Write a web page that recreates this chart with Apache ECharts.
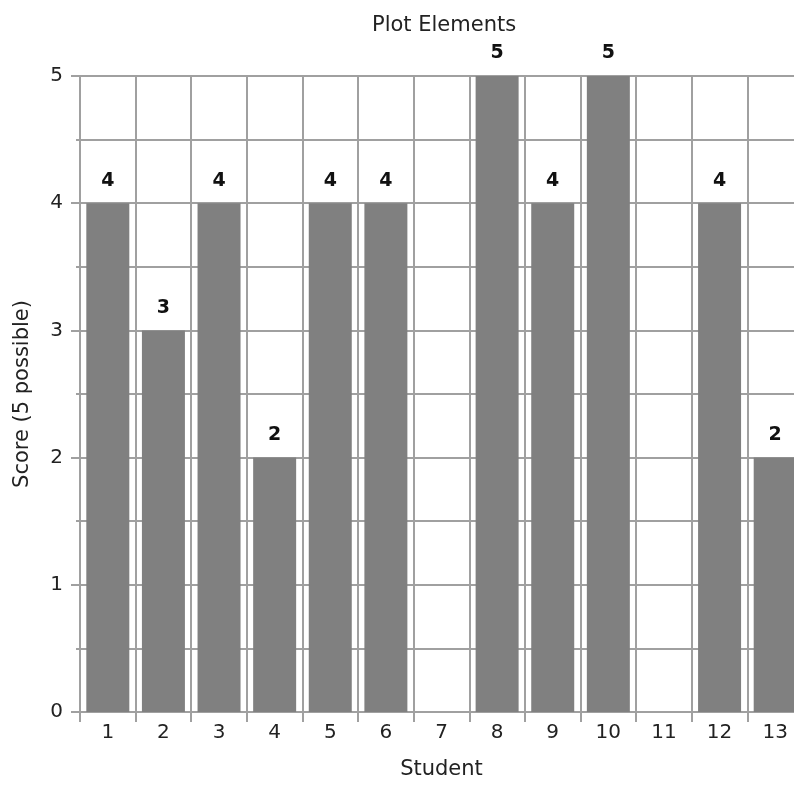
<!DOCTYPE html>
<html>
<head>
<meta charset="utf-8">
<script src="https://cdn.jsdelivr.net/npm/echarts@6/dist/echarts.min.js"></script>
<style>html,body{margin:0;padding:0;background:#fff;overflow:hidden;width:794px;height:785px}#c{width:820px;height:785px}</style>
</head>
<body>
<div id="c"></div>
<script>
const categories = ['1','2','3','4','5','6','7','8','9','10','11','12','13'];
const scores = [4, 3, 4, 2, 4, 4, null, 5, 4, 5, null, 4, 2];
const yMin = 0, yMax = 5, yInterval = 1;

const FONT = 'DejaVu Sans';
const GRID = '#a0a0a0';
const chart = echarts.init(document.getElementById('c'), null, {renderer: 'canvas'});
chart.setOption({
  animation: false,
  backgroundColor: '#fff',
  title: {
    text: 'Plot Elements', left: 372, top: 15, padding: 0,
    textStyle: {fontFamily: FONT, fontSize: 21, fontWeight: 'normal', color: '#222'}
  },
  grid: {left: 80, top: 76, width: 723, height: 636, containLabel: false},
  xAxis: {
    type: 'category', data: categories, boundaryGap: true,
    name: 'Student', nameLocation: 'middle', nameGap: 47,
    nameTextStyle: {fontFamily: FONT, fontSize: 21, color: '#222'},
    axisLine: {show: true, lineStyle: {color: GRID, width: 2}},
    axisTick: {show: true, length: 10, lineStyle: {color: GRID, width: 2}, interval: 0},
    axisLabel: {fontFamily: FONT, fontSize: 20, color: '#222', margin: 11, interval: 0},
    splitLine: {show: true, interval: 0, lineStyle: {color: GRID, width: 2}}
  },
  yAxis: {
    type: 'value', min: yMin, max: yMax, interval: yInterval,
    name: 'Score (5 possible)', nameLocation: 'middle', nameGap: 47,
    nameTextStyle: {fontFamily: FONT, fontSize: 21, color: '#222'},
    axisLine: {show: true, lineStyle: {color: GRID, width: 2}},
    axisTick: {show: true, length: 9, lineStyle: {color: GRID, width: 2}},
    minorTick: {show: true, splitNumber: 2, length: 4, lineStyle: {color: GRID, width: 2}},
    axisLabel: {fontFamily: FONT, fontSize: 20, color: '#222', margin: 17},
    splitLine: {show: true, lineStyle: {color: GRID, width: 2}},
    minorSplitLine: {show: true, lineStyle: {color: GRID, width: 2}}
  },
  series: [{
    type: 'bar', data: scores, barWidth: 43,
    itemStyle: {color: '#808080'},
    label: {show: true, position: 'top', distance: 13,
      fontFamily: FONT, fontSize: 19, fontWeight: 'bold', color: '#111'}
  }]
});
</script>
</body>
</html>
